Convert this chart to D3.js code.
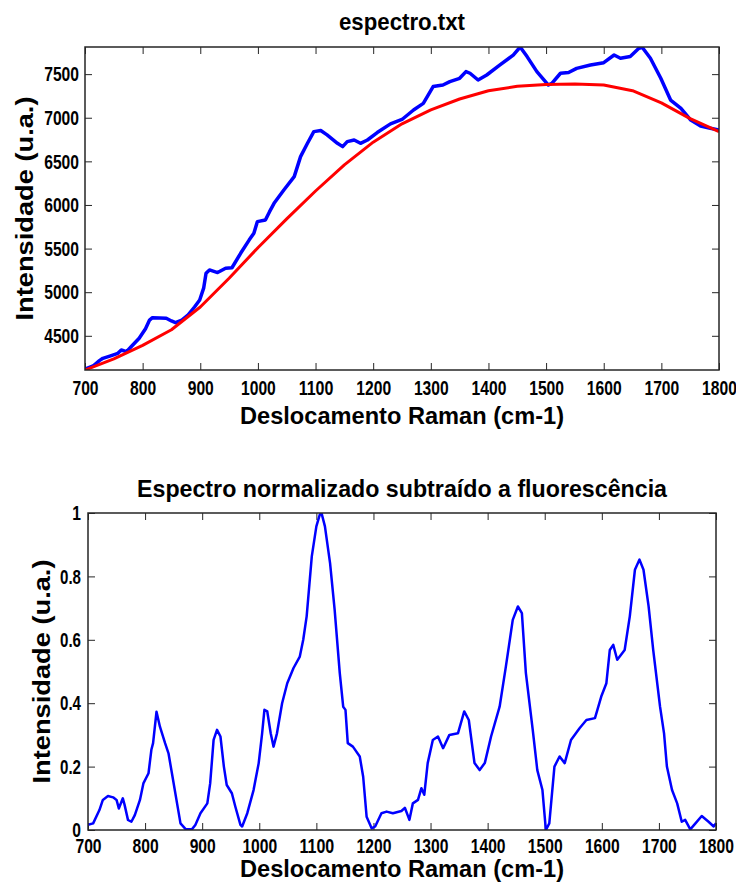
<!DOCTYPE html>
<html>
<head>
<meta charset="utf-8">
<script src="https://cdn.jsdelivr.net/npm/d3@7"></script>
<style>
  html, body { margin: 0; padding: 0; background: #fff; }
  svg { display: block; }
  .tick-label { font-family: "Liberation Sans", Arial, sans-serif; font-weight: bold; font-size: 21px; fill: #000; }
  .big-label { font-family: "Liberation Sans", Arial, sans-serif; font-weight: bold; font-size: 24px; fill: #000; }
</style>
</head>
<body>
<svg id="chart" width="736" height="890"></svg>
<script>
// Raman shift ticks shared by both panels
const ramanTicks = [700, 800, 900, 1000, 1100, 1200, 1300, 1400, 1500, 1600, 1700, 1800];
const rawTicks = [4500, 5000, 5500, 6000, 6500, 7000, 7500];
const normTicks = [0, 0.2, 0.4, 0.6, 0.8, 1];
const normTickLabels = ["0", "0.2", "0.4", "0.6", "0.8", "1"];

// Raw spectrum (espectro.txt)
const rawShift = [700, 703, 714, 725, 731, 743, 757, 763, 772, 780, 794, 805, 812, 817, 830, 841, 850, 857, 868, 879,
  890, 899, 906, 910, 916, 930, 944, 955, 970, 985, 993, 999, 1013, 1020, 1028, 1045, 1063, 1074, 1086, 1097,
  1109, 1120, 1138, 1147, 1155, 1167, 1178, 1190, 1207, 1230, 1250, 1270, 1287, 1304, 1321, 1333, 1350, 1361, 1368, 1382,
  1397, 1420, 1443, 1455, 1467, 1484, 1504, 1510, 1525, 1539, 1553, 1577, 1600, 1618, 1629, 1646, 1661, 1667, 1681, 1699,
  1716, 1734, 1751, 1768, 1785, 1800];
const rawIntensity = [4120, 4127, 4154, 4215, 4242, 4268, 4299, 4337, 4318, 4375, 4471, 4580, 4680, 4708, 4705, 4701, 4670, 4650, 4680, 4740,
  4830, 4911, 5050, 5217, 5255, 5225, 5274, 5280, 5446, 5600, 5676, 5809, 5828, 5920, 6019, 6172, 6325, 6554, 6707, 6841,
  6853, 6803, 6707, 6669, 6726, 6745, 6707, 6745, 6830, 6930, 6980, 7089, 7165, 7357, 7375, 7414, 7452, 7529, 7510, 7433,
  7490, 7605, 7719, 7811, 7701, 7529, 7375, 7394, 7510, 7518, 7566, 7605, 7631, 7719, 7682, 7701, 7796, 7805, 7682, 7452,
  7203, 7107, 6974, 6905, 6880, 6860];

// Fitted fluorescence background
const fitShift = [700, 750, 800, 850, 900, 950, 1000, 1050, 1100, 1150, 1200, 1250, 1300, 1350, 1400, 1450, 1500, 1550, 1600, 1650, 1700, 1750, 1800];
const fitIntensity = [4108, 4235, 4390, 4570, 4830, 5160, 5510, 5840, 6160, 6460, 6720, 6930, 7090, 7215, 7310, 7360, 7380, 7388, 7375, 7310, 7170, 6990, 6840];

// Normalized spectrum after background subtraction
const normShift = [700, 709, 720, 726, 735, 744, 750, 754, 761, 764, 770, 776, 782, 791, 797, 806, 811, 814, 820, 826,
  835, 841, 847, 856, 862, 871, 882, 888, 897, 909, 914, 920, 926, 932, 938, 943, 952, 958, 967, 970,
  979, 990, 999, 1005, 1009, 1014, 1020, 1025, 1031, 1040, 1049, 1060, 1071, 1077, 1083, 1092, 1100, 1106, 1109, 1115,
  1124, 1132, 1141, 1147, 1151, 1155, 1164, 1176, 1182, 1188, 1197, 1203, 1214, 1223, 1234, 1249, 1255, 1263, 1269, 1278,
  1284, 1289, 1295, 1304, 1313, 1322, 1333, 1348, 1359, 1367, 1377, 1386, 1395, 1406, 1421, 1432, 1444, 1453, 1460, 1467,
  1479, 1487, 1496, 1502, 1508, 1517, 1526, 1535, 1546, 1561, 1573, 1588, 1599, 1608, 1614, 1620, 1627, 1640, 1649, 1658,
  1666, 1673, 1682, 1690, 1702, 1709, 1714, 1723, 1732, 1740, 1746, 1755, 1764, 1775, 1787, 1796, 1800];
const normIntensity = [0.016, 0.021, 0.063, 0.095, 0.107, 0.103, 0.095, 0.068, 0.100, 0.080, 0.032, 0.026, 0.047, 0.095, 0.147, 0.179, 0.253, 0.274, 0.373, 0.326,
  0.274, 0.242, 0.179, 0.084, 0.021, 0.003, 0.002, 0.016, 0.053, 0.084, 0.147, 0.284, 0.316, 0.295, 0.200, 0.142, 0.116, 0.074, 0.016, 0.011,
  0.053, 0.126, 0.211, 0.305, 0.379, 0.374, 0.305, 0.263, 0.305, 0.400, 0.463, 0.511, 0.547, 0.600, 0.674, 0.863, 0.958, 0.995, 1.000, 0.958,
  0.842, 0.695, 0.495, 0.389, 0.379, 0.274, 0.263, 0.232, 0.168, 0.042, 0.005, 0.011, 0.053, 0.058, 0.053, 0.060, 0.070, 0.032, 0.084, 0.095,
  0.132, 0.111, 0.211, 0.284, 0.295, 0.258, 0.300, 0.305, 0.374, 0.347, 0.211, 0.189, 0.211, 0.295, 0.389, 0.516, 0.663, 0.705, 0.684, 0.495,
  0.316, 0.189, 0.126, 0.000, 0.021, 0.200, 0.232, 0.211, 0.284, 0.321, 0.347, 0.353, 0.421, 0.463, 0.568, 0.584, 0.537, 0.568, 0.674, 0.821,
  0.853, 0.821, 0.705, 0.568, 0.389, 0.305, 0.200, 0.126, 0.084, 0.026, 0.032, 0.002, 0.021, 0.044, 0.026, 0.011, 0.021];

const svg = d3.select("#chart");
const AXIS_COLOR = "#262626";
const TICK_LEN = 7;

function zip(xs, ys) { return xs.map((x, i) => ({ x, y: ys[i] })); }

// condensed width for a numeric tick label
function tickWidth(s) {
  let w = 0;
  for (const c of s) w += (c === "." ? 3.6 : 8.7);
  return w;
}

// Draws one boxed panel with inward ticks on all four sides
function panel(cfg) {
  const { box, xDomain, yDomain, yTicks, yTickFormat, series, title, titleY, xLabelY, yLabelX, xPad, yPad, id } = cfg;
  const x = d3.scaleLinear().domain(xDomain).range([box.left, box.right]);
  const y = d3.scaleLinear().domain(yDomain).range([box.bottom, box.top]);
  const g = svg.append("g");

  g.append("clipPath").attr("id", id).append("rect")
    .attr("x", box.left).attr("y", box.top)
    .attr("width", box.right - box.left).attr("height", box.bottom - box.top);

  const axB = d3.axisBottom(x).tickValues(ramanTicks).tickSize(-TICK_LEN).tickPadding(xPad).tickFormat(d3.format("d"));
  const axT = d3.axisTop(x).tickValues(ramanTicks).tickSize(-TICK_LEN).tickFormat("");
  const axL = d3.axisLeft(y).tickValues(yTicks).tickSize(-TICK_LEN).tickPadding(yPad).tickFormat(yTickFormat);
  const axR = d3.axisRight(y).tickValues(yTicks).tickSize(-TICK_LEN).tickFormat("");

  g.append("g").attr("transform", `translate(0,${box.bottom})`).call(axB);
  g.append("g").attr("transform", `translate(0,${box.top})`).call(axT);
  g.append("g").attr("transform", `translate(${box.left},0)`).call(axL);
  g.append("g").attr("transform", `translate(${box.right},0)`).call(axR);

  g.selectAll(".domain").remove();
  g.selectAll(".tick line").attr("stroke", AXIS_COLOR).attr("stroke-width", 1);
  g.selectAll(".tick text")
    .attr("class", "tick-label").attr("font-family", null).attr("font-size", null)
    .each(function () {
      const t = d3.select(this);
      const s = t.text();
      if (s) t.attr("textLength", tickWidth(s)).attr("lengthAdjust", "spacingAndGlyphs");
    });

  series.forEach(s => {
    g.append("path")
      .datum(zip(s.xs, s.ys))
      .attr("clip-path", `url(#${id})`)
      .attr("fill", "none")
      .attr("stroke", s.color)
      .attr("stroke-width", s.width)
      .attr("stroke-linejoin", "round")
      .attr("d", d3.line().x(d => x(d.x)).y(d => y(d.y)));
  });

  g.append("rect")
    .attr("x", box.left).attr("y", box.top)
    .attr("width", box.right - box.left).attr("height", box.bottom - box.top)
    .attr("fill", "none").attr("stroke", AXIS_COLOR).attr("stroke-width", 1.5);

  const cx = (box.left + box.right) / 2;
  g.append("text").attr("class", "big-label").attr("x", cx).attr("y", titleY)
    .attr("text-anchor", "middle").attr("textLength", title.len).attr("lengthAdjust", "spacingAndGlyphs")
    .text(title.text);
  g.append("text").attr("class", "big-label").attr("x", cx).attr("y", xLabelY)
    .attr("text-anchor", "middle").attr("textLength", 324).attr("lengthAdjust", "spacingAndGlyphs")
    .text("Deslocamento Raman (cm-1)");
  g.append("text").attr("class", "big-label")
    .attr("transform", `translate(${yLabelX},${(box.top + box.bottom) / 2}) rotate(-90)`)
    .attr("text-anchor", "middle").attr("textLength", 224).attr("lengthAdjust", "spacingAndGlyphs")
    .text("Intensidade (u.a.)");
}

const rawAll = rawIntensity.concat(fitIntensity);
panel({
  id: "clipTop",
  box: { left: 85, right: 719, top: 47, bottom: 370 },
  xDomain: d3.extent(ramanTicks),
  yDomain: d3.extent(rawAll),
  yTicks: rawTicks,
  yTickFormat: d3.format("d"),
  xPad: 10,
  yPad: 6,
  series: [
    { xs: rawShift, ys: rawIntensity, color: "#0000ff", width: 3.5 },
    { xs: fitShift, ys: fitIntensity, color: "#ff0000", width: 3 }
  ],
  title: { text: "espectro.txt", len: 126 },
  titleY: 30,
  xLabelY: 424,
  yLabelX: 33
});

panel({
  id: "clipBottom",
  box: { left: 88, right: 716, top: 513, bottom: 830 },
  xDomain: d3.extent(ramanTicks),
  yDomain: d3.extent(normIntensity),
  yTicks: normTicks,
  yTickFormat: (d, i) => normTickLabels[i],
  xPad: 8,
  yPad: 7,
  series: [
    { xs: normShift, ys: normIntensity, color: "#0000ff", width: 2.5 }
  ],
  title: { text: "Espectro normalizado subtraído a fluorescência", len: 530 },
  titleY: 497,
  xLabelY: 877,
  yLabelX: 50
});
</script>
</body>
</html>
